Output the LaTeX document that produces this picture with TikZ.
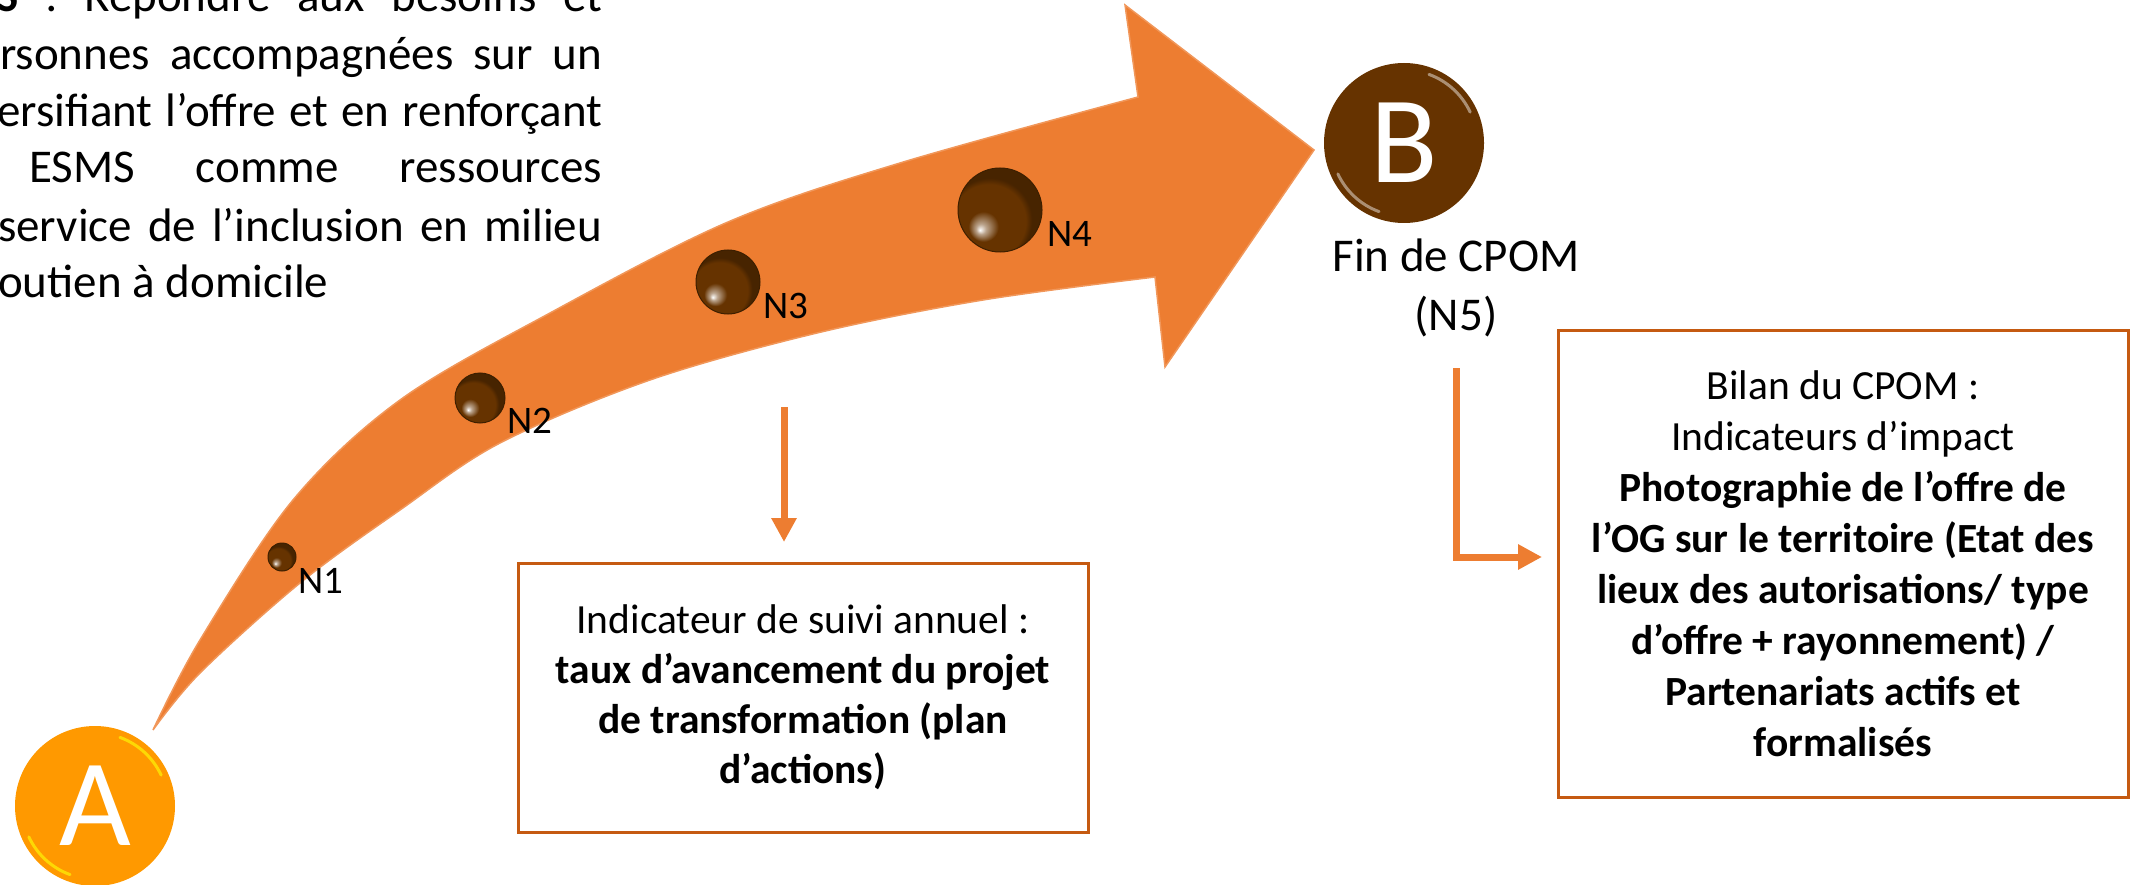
\documentclass[tikz,border=0pt]{standalone}
\usepackage{fontspec}
\setmainfont{Carlito}
\usetikzlibrary{arrows.meta}
\definecolor{arrorange}{HTML}{ED7D31}
\definecolor{boxedge}{HTML}{C55A11}
\definecolor{ballbrown}{HTML}{663300}
\definecolor{aorange}{HTML}{FF9900}
\pgfdeclareradialshading{ballsh}{\pgfpoint{-12bp}{-12bp}}{color(0bp)=(white); color(3bp)=(ballbrown!45!white); color(9bp)=(ballbrown); color(22bp)=(ballbrown); color(25bp)=(ballbrown!70!black); color(50bp)=(ballbrown!70!black)}
\begin{document}
\begin{tikzpicture}[x=1pt,y=-1pt,
  paratext/.style={font=\fontsize{47}{57}\selectfont, inner sep=0pt, anchor=base west},
  lbltext/.style={font=\fontsize{47}{57}\selectfont, inner sep=0pt, anchor=base},
  nlabel/.style={font=\fontsize{39}{47}\selectfont, inner sep=0pt, anchor=base west},
  ball/.style={circle, inner sep=0pt, shading=ballsh, draw=ballbrown!60!black, line width=1pt},
  infobox/.style={draw=boxedge, line width=3pt, align=center, inner sep=0pt, font=\fontsize{41.5}{50}\selectfont},
  connector/.style={draw=arrorange, line width=7pt, -{Triangle[length=24pt,width=24pt]}},
  bigletter/.style={circle, inner sep=0pt, minimum size=160pt, text=white, font=\fontsize{124}{124}\selectfont}
]
\useasboundingbox (0,0) rectangle (2133,885);

% big curved arrow
\path[fill=arrorange, draw=arrorange!80!white, line width=1.5pt, line join=miter]
  plot[smooth, tension=0.55] coordinates {(153,730) (200,640) (293,500) (400,400) (550,313) (728,222) (900,163) (1138,97)}
  -- (1125,5) -- (1314,150) -- (1165,367)
  -- plot[smooth, tension=0.55] coordinates {(1155,277) (983,300) (817,333) (650,380) (500,443) (400,510) (300,583) (200,673) (153,730)}
  -- cycle;

% milestones
\node[ball, minimum size=28pt] (n1) at (282,557) {};
\node[ball, minimum size=50pt] (n2) at (480,398) {};
\node[ball, minimum size=64pt] (n3) at (728,282) {};
\node[ball, minimum size=84pt] (n4) at (1000,210) {};
\node[nlabel] (l1) at (298,593) {N1};
\node[nlabel] (l2) at (507,433) {N2};
\node[nlabel] (l3) at (763,318) {N3};
\node[nlabel] (l4) at (1047,247) {N4};

% A and B
\node[bigletter, fill=aorange] (A) at (95,806) {A};
\draw[yellow!70!aorange, line width=3pt, line cap=round] ([shift={(25:73pt)}]A.center) arc[start angle=25, end angle=70, radius=73pt];
\draw[yellow!70!aorange, line width=3pt, line cap=round] ([shift={(205:73pt)}]A.center) arc[start angle=205, end angle=250, radius=73pt];
\node[bigletter, fill=ballbrown] (B) at (1404,143) {B};
\draw[ballbrown!55!white, line width=3pt, line cap=round] ([shift={(25:73pt)}]B.center) arc[start angle=25, end angle=70, radius=73pt];
\draw[ballbrown!55!white, line width=3pt, line cap=round] ([shift={(205:73pt)}]B.center) arc[start angle=205, end angle=250, radius=73pt];

\node[lbltext] (fin) at (1456,272) {Fin de CPOM};
\node[lbltext] (n5) at (1456,330) {(N5)};

% top-left paragraph (cut by the left and top edges)
\node[paratext] (p1) at (-4,12) {\makebox[606pt][s]{\textbf{S} : Répondre aux besoins et}};
\node[paratext] (p2) at (0,70) {\makebox[602pt][s]{rsonnes accompagnées sur un}};
\node[paratext] (p3) at (-3,127) {\makebox[605pt][s]{ersifiant l’offre et en renforçant}};
\node[paratext] (p4) at (29,183) {\makebox[573pt][s]{ESMS comme ressources}};
\node[paratext] (p5) at (-2,242) {\makebox[604pt][s]{service de l’inclusion en milieu}};
\node[paratext] (p6) at (-2,298) {outien à domicile};

% boxes
\node[infobox, minimum width=570pt, minimum height=269pt] (box1) at (803,697.5)
  {Indicateur de suivi annuel :\\ \textbf{taux d’avancement du projet}\\ \textbf{de transformation (plan}\\ \textbf{d’actions)}};
\node[infobox, font=\fontsize{41.5}{51}\selectfont, minimum width=570pt, minimum height=467pt] (box2) at (1843,563.5)
  {Bilan du CPOM :\\ Indicateurs d’impact\\ \textbf{Photographie de l’offre de}\\ \textbf{l’OG sur le territoire (Etat des}\\ \textbf{lieux des autorisations/ type}\\ \textbf{d’offre + rayonnement) /}\\ \textbf{Partenariats actifs et}\\ \textbf{formalisés}};

% connectors
\coordinate (c1s) at (784,407);
\coordinate (c1e) at (784,542);
\draw[connector] (c1s) -- (c1e);
\coordinate (c2s) at (1456,368);
\coordinate (c2e) at (1542,557);
\draw[connector] (c2s) |- (c2e);
\end{tikzpicture}
\end{document}
